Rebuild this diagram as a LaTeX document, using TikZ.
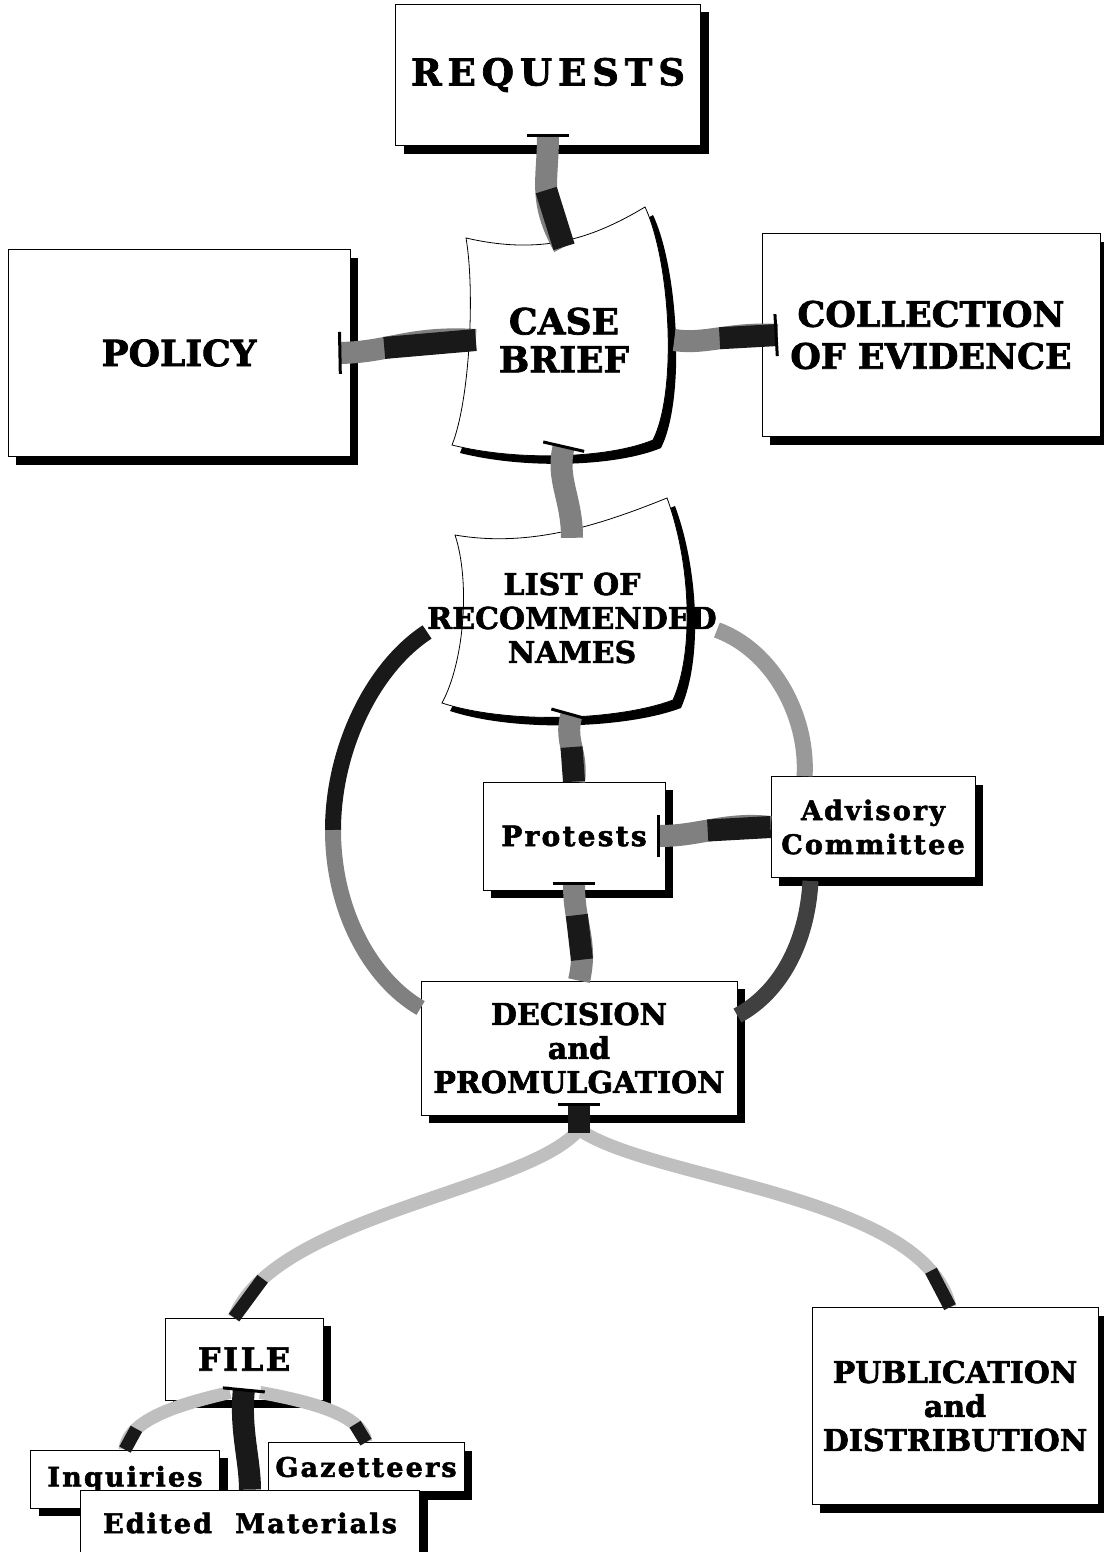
\documentclass[tikz,border=0pt]{standalone}
\usepackage{fontspec}
\setmainfont{DejaVu Serif}[BoldFeatures={FakeBold=2}]
\newfontfamily\spaced{DejaVu Serif}[LetterSpace=8,BoldFeatures={FakeBold=2}]
\newfontfamily\wide{DejaVu Serif}[LetterSpace=16,BoldFeatures={FakeBold=2}]
\usetikzlibrary{shadows,arrows.meta}

\begin{document}
\begin{tikzpicture}[x=1pt,y=-1pt,
    box/.style={draw,fill=white,line width=0.8pt,align=center,inner sep=2pt,
      drop shadow={shadow xshift=8pt,shadow yshift=-8pt,opacity=1,fill=black}},
    doc/.style={draw,fill=white,line width=0.8pt,
      drop shadow={shadow xshift=8pt,shadow yshift=-8pt,opacity=1,fill=black}},
    band/.style={line width=22pt,draw=black!50},
    ring/.style={line width=16pt,draw=black!50},
    faint/.style={line width=13pt,draw=black!25},
    dark/.style={draw=black!90},
    tee/.style={arrows={Bar[width=42pt,line width=3pt,color=black]-}},
    eet/.style={arrows={-Bar[width=42pt,line width=3pt,color=black]}}]

    \fill[white] (0,0) rectangle (1103,1552);
    \useasboundingbox (0,0) rectangle (1103,1552);

    % Case brief and list sheets
    \path[doc] (466,238) .. controls (540,255) and (590,240) .. (645,207)
      .. controls (670,260) and (678,390) .. (653,440)
      .. controls (610,458) and (520,462) .. (452,445)
      .. controls (470,400) and (475,290) .. (466,238) -- cycle;
    \path[doc] (455,535) .. controls (530,548) and (600,525) .. (667,498)
      .. controls (690,560) and (695,650) .. (673,700)
      .. controls (620,720) and (510,725) .. (442,703)
      .. controls (465,660) and (470,580) .. (455,535) -- cycle;

    % Boxes of the upper part
    \node[box,minimum width=305,minimum height=141,
      font=\wide\bfseries\fontsize{37}{42}\selectfont] (req) at (548,75) {REQUESTS};
    \node[box,minimum width=342,minimum height=207,
      font=\bfseries\fontsize{36}{40}\selectfont] (pol) at (179,353) {POLICY};
    \node[box,minimum width=338,minimum height=203,
      font=\bfseries\fontsize{35}{42}\selectfont] (col) at (931,335) {COLLECTION\\OF EVIDENCE};
    \node[font=\bfseries\fontsize{36}{38}\selectfont,align=center,
      minimum width=196,minimum height=210] (cb) at (564,340) {CASE\\BRIEF};
    \node[font=\bfseries\fontsize{30}{34}\selectfont,align=center,inner sep=0pt,
      minimum height=190] (lst) at (572,618) {LIST OF\\RECOMMENDED\\NAMES};

    % Boxes round the decision
    \node[box,minimum width=182,minimum height=108,
      font=\spaced\bfseries\fontsize{28}{32}\selectfont] (pro) at (574,836) {Protests};
    \node[box,minimum width=204,minimum height=101,
      font=\spaced\bfseries\fontsize{27}{34}\selectfont] (adv) at (873,827) {Advisory\\Committee};
    \node[box,minimum width=316,minimum height=134,
      font=\bfseries\fontsize{30}{34}\selectfont] (dec) at (579,1048) {DECISION\\and\\PROMULGATION};

    % Boxes of the lower part
    \node[box,minimum width=158,minimum height=82,
      font=\spaced\bfseries\fontsize{32}{36}\selectfont] (fil) at (244,1359) {FILE};
    \node[box,minimum width=286,minimum height=197,
      font=\bfseries\fontsize{30}{34}\selectfont] (pub) at (955,1406) {PUBLICATION\\and\\DISTRIBUTION};
    \node[box,minimum width=189,minimum height=58,
      font=\spaced\bfseries\fontsize{27}{30}\selectfont] (inq) at (125,1479) {Inquiries};
    \node[box,minimum width=196,minimum height=49,
      font=\spaced\bfseries\fontsize{27}{30}\selectfont] (gaz) at (366,1467) {Gazetteers};
    \node[box,minimum width=339,minimum height=66,
      font=\spaced\bfseries\fontsize{27}{30}\selectfont] (edt) at (250,1523) {Edited\ \ Materials};

    % Links of the upper part
    \draw[band,tee] ([yshift=12pt]req.south) .. controls (548,180) and (538,200)
      .. ([yshift=-12pt]cb.north) coordinate[pos=0.5] (rq);
    \draw[band,dark] (rq) -- ([yshift=-12pt]cb.north);
    \draw[band,tee] ([xshift=-12pt]pol.east) .. controls (390,352) and (410,336)
      .. ([xshift=10pt]cb.west) coordinate[pos=0.35] (pc);
    \draw[band,dark] (pc) -- ([xshift=10pt]cb.west);
    \draw[band] ([xshift=12pt]cb.east) .. controls (705,345) and (730,332)
      .. ([xshift=16pt]col.west) coordinate[pos=0.5] (cc);
    \draw[band,dark,eet] (cc) -- ([xshift=16pt]col.west);
    \draw[band,tee] (cb.south) .. controls (556,480) and (572,498) .. ([yshift=-15pt]lst.north);

    % Links round the list
    \draw[band,tee] (lst.south) .. controls (564,742) and (578,752) .. (pro.north)
      coordinate[pos=0.5] (lp);
    \draw[band,dark] (lp) -- (pro.north);
    \draw[band,tee] ([yshift=8pt]pro.south) .. controls (574,925) and (588,942) .. (dec.north)
      coordinate[pos=0.3] (pd1) coordinate[pos=0.8] (pd2);
    \draw[band,dark] (pd1) -- (pd2);
    \draw[band,tee] ([xshift=-8pt]pro.east) .. controls (700,836) and (725,822) .. (adv.west)
      coordinate[pos=0.45] (pa);
    \draw[band,dark] (pa) -- (adv.west);

    \coordinate (lw) at (333,830);
    \draw[ring,dark] ([yshift=-14pt]lst.west) .. controls (372,668) and (333,750) .. (lw);
    \draw[ring] (lw) .. controls (333,912) and (372,980) .. ([yshift=40pt]dec.west);
    \draw[ring,draw=black!40] ([yshift=-12pt]lst.east) .. controls (772,650) and (808,715)
      .. ([xshift=34pt]adv.north west);
    \draw[ring,draw=black!75,tee] ([xshift=40pt]adv.south west) .. controls (808,935) and (785,990)
      .. ([yshift=-35pt]dec.north east);

    % Links of the lower part
    \draw[faint] ([yshift=-14pt]dec.south) .. controls (530,1190) and (275,1215)
      .. ([xshift=-10pt]fil.north) coordinate[pos=0.86] (df);
    \draw[faint] ([yshift=-14pt]dec.south) .. controls (650,1180) and (925,1195)
      .. ([xshift=-5pt]pub.north) coordinate[pos=0.88] (dp);
    \draw[band,dark,tee] ([yshift=12pt]dec.south) -- ([yshift=-18pt]dec.south);
    \draw[faint,dark] (df) -- ([xshift=-10pt]fil.north);
    \draw[faint,dark] (dp) -- ([xshift=-5pt]pub.north);

    \draw[faint] ([xshift=-14pt,yshift=8pt]fil.south) .. controls (185,1403) and (128,1418)
      .. (inq.north) coordinate[pos=0.75] (fi);
    \draw[faint,dark] (fi) -- (inq.north);
    \draw[faint] ([xshift=16pt,yshift=8pt]fil.south) .. controls (312,1402) and (362,1415)
      .. (gaz.north) coordinate[pos=0.75] (fg);
    \draw[faint,dark] (fg) -- (gaz.north);
    \draw[band,dark,tee] ([yshift=12pt]fil.south) .. controls (240,1430) and (250,1460) .. (edt.north);
\end{tikzpicture}
\end{document}
